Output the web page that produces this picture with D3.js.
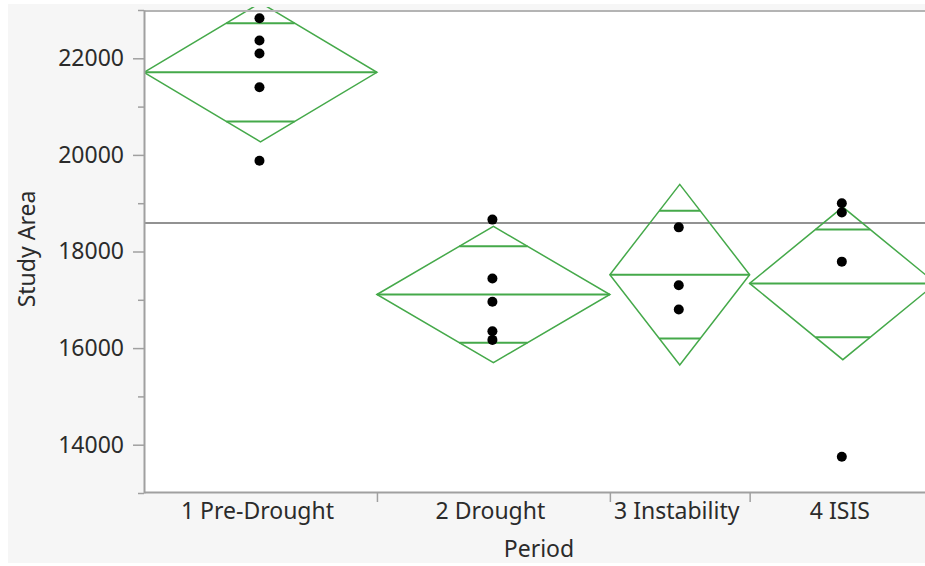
<!DOCTYPE html>
<html>
<head>
<meta charset="utf-8">
<script src="https://cdn.jsdelivr.net/npm/d3@7"></script>
<style>
  body { margin: 0; background: #fff; }
  svg { display: block; }
  text { font-family: "Noto Sans", sans-serif; fill: #2b2b2b; }
</style>
</head>
<body>
<svg id="visualization" width="925" height="566"></svg>
<script>
const periods = ["1 Pre-Drought", "2 Drought", "3 Instability", "4 ISIS"];
const periodCounts = [5, 5, 3, 4];

const pointsPreDrought = [22830, 22370, 22100, 21400, 19880];
const pointsDrought = [18660, 17440, 16960, 16350, 16170];
const pointsInstability = [18500, 17300, 16800];
const pointsIsis = [19000, 18810, 17790, 13750];

const groupMeans = [21710, 17110, 17520, 17340];
const ciHalf = [1440, 1410, 1870, 1580];
const grandMean = 18590;

const yMajorTicks = [14000, 16000, 18000, 20000, 22000];
const yMinorTicks = [13000, 15000, 17000, 19000, 21000, 23000];

const renderVisualization = () => {
    const svg = d3.select("#visualization");

    const plot = { left: 144, top: 10, bottom: 493, right: 936 };
    const fontSize = 23;

    const totalCount = d3.sum(periodCounts);
    const starts = [0];
    periodCounts.forEach((c, i) => starts.push(starts[i] + c));

    const xScale = d3.scaleLinear().domain([0, totalCount]).range([plot.left, plot.right]);
    const yScale = d3.scaleLinear().domain([13000, 23000]).range([plot.bottom, plot.top]);

    // backgrounds
    svg.append("rect")
        .attr("x", 8).attr("y", 4)
        .attr("width", 917).attr("height", 559)
        .attr("fill", "#f6f6f6");
    svg.append("rect")
        .attr("x", plot.left).attr("y", plot.top)
        .attr("width", 925 - plot.left).attr("height", plot.bottom - plot.top)
        .attr("fill", "#fff");

    svg.append("clipPath").attr("id", "plot-clip")
        .append("rect")
        .attr("x", plot.left).attr("y", 7)
        .attr("width", 925 - plot.left).attr("height", plot.bottom - 7);

    const chartArea = svg.append("g").attr("clip-path", "url(#plot-clip)");

    // grand mean
    chartArea.append("line")
        .attr("x1", plot.left).attr("x2", plot.right)
        .attr("y1", yScale(grandMean)).attr("y2", yScale(grandMean))
        .attr("stroke", "#6e6e6e")
        .attr("stroke-width", 1.5);

    const groups = periods.map((p, i) => ({
        name: p,
        x0: xScale(starts[i]),
        x1: xScale(starts[i + 1]),
        xc: xScale(starts[i] + periodCounts[i] / 2),
        mean: groupMeans[i],
        ci: ciHalf[i]
    }));

    const green = "#45a94a";

    // diamonds
    chartArea.selectAll("path.diamond")
        .data(groups)
        .join("path")
        .attr("class", "diamond")
        .attr("fill", "none")
        .attr("stroke", green)
        .attr("stroke-width", 1.5)
        .attr("d", g => `M${g.x0},${yScale(g.mean)} L${g.xc},${yScale(g.mean + g.ci)} L${g.x1},${yScale(g.mean)} L${g.xc},${yScale(g.mean - g.ci)} Z`);

    chartArea.selectAll("line.mean")
        .data(groups)
        .join("line")
        .attr("class", "mean")
        .attr("stroke", green)
        .attr("stroke-width", 2)
        .attr("x1", g => g.x0).attr("x2", g => g.x1)
        .attr("y1", g => yScale(g.mean)).attr("y2", g => yScale(g.mean));

    // overlap marks
    const marks = [];
    groups.forEach(g => {
        const hw = (g.x1 - g.x0) / 2 * (1 - Math.SQRT1_2);
        [1, -1].forEach(s => marks.push({ xc: g.xc, hw: hw, v: g.mean + s * g.ci * Math.SQRT1_2 }));
    });
    chartArea.selectAll("line.overlap")
        .data(marks)
        .join("line")
        .attr("class", "overlap")
        .attr("stroke", green)
        .attr("stroke-width", 2)
        .attr("x1", m => m.xc - m.hw).attr("x2", m => m.xc + m.hw)
        .attr("y1", m => yScale(m.v)).attr("y2", m => yScale(m.v));

    // points
    const allPoints = [pointsPreDrought, pointsDrought, pointsInstability, pointsIsis];
    const pts = [];
    allPoints.forEach((arr, i) => arr.forEach(v => pts.push({ xc: groups[i].xc, v: v })));
    chartArea.selectAll("circle")
        .data(pts)
        .join("circle")
        .attr("cx", p => p.xc - 1)
        .attr("cy", p => yScale(p.v))
        .attr("r", 5)
        .attr("fill", "#000");

    // top frame
    svg.append("line")
        .attr("x1", plot.left).attr("x2", 925)
        .attr("y1", plot.top + 1).attr("y2", plot.top + 1)
        .attr("stroke", "#b4b4b4").attr("stroke-width", 2);

    // y axis
    const yMinor = svg.append("g")
        .attr("transform", `translate(${plot.left},0)`)
        .call(d3.axisLeft(yScale).tickValues(yMinorTicks).tickSize(6).tickFormat(""));
    yMinor.select(".domain").remove();
    yMinor.selectAll("line").attr("stroke", "#a0a0a0").attr("stroke-width", 1.5);

    const yAxis = svg.append("g")
        .attr("transform", `translate(${plot.left},0)`)
        .call(d3.axisLeft(yScale).tickValues(yMajorTicks).tickSize(11).tickSizeOuter(0).tickPadding(9).tickFormat(d3.format("d")));
    yAxis.select(".domain").attr("stroke", "#a0a0a0").attr("stroke-width", 2);
    yAxis.selectAll("line").attr("stroke", "#a0a0a0").attr("stroke-width", 1.5);
    yAxis.selectAll("text")
        .attr("font-family", '"Noto Sans", sans-serif')
        .attr("font-size", fontSize)
        .attr("fill", "#2b2b2b");

    // x axis
    const xAxis = svg.append("g")
        .attr("transform", `translate(0,${plot.bottom - 1})`)
        .call(d3.axisBottom(xScale).tickValues(starts.slice(1, periods.length)).tickSize(10).tickSizeOuter(0).tickFormat(""));
    xAxis.select(".domain").attr("stroke", "#a0a0a0").attr("stroke-width", 2);
    xAxis.selectAll("line").attr("stroke", "#a0a0a0").attr("stroke-width", 1.5);

    svg.selectAll("text.period")
        .data(groups)
        .join("text")
        .attr("class", "period")
        .attr("x", g => g.xc - 3)
        .attr("y", 519)
        .attr("text-anchor", "middle")
        .attr("font-size", fontSize)
        .text(g => g.name);

    svg.append("text")
        .attr("x", 539).attr("y", 557)
        .attr("text-anchor", "middle")
        .attr("font-size", fontSize)
        .text("Period");

    svg.append("text")
        .attr("transform", "translate(35,249) rotate(-90)")
        .attr("text-anchor", "middle")
        .attr("font-size", fontSize)
        .text("Study Area");
};

renderVisualization();
</script>
</body>
</html>
